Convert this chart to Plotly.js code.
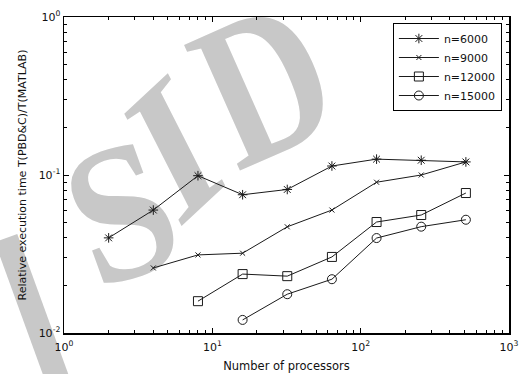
<!DOCTYPE html>
<html>
<head>
<meta charset="utf-8">
<script src="https://cdn.plot.ly/plotly-3.0.1.min.js"></script>
<style>
html,body{margin:0;padding:0;background:#fff;}
#wrap{position:relative;width:524px;height:374px;overflow:hidden;background:#fff;}
.wl{position:absolute;font-family:'Liberation Serif',serif;font-weight:bold;line-height:0.55;color:#c8c8c8;white-space:nowrap;}
#wS{left:121px;top:212px;font-size:195px;transform:translate(-50%,-50%) rotate(-20deg) scaleX(0.92);}
#wI{left:174px;top:148px;font-size:185px;transform:translate(-50%,-50%) rotate(-43deg) skewX(-16deg);}
#wD{left:264px;top:83px;font-size:210px;transform:translate(-50%,-50%) rotate(-24deg) scaleX(0.8);}
#wm2{position:absolute;left:-6px;top:238px;width:24px;height:170px;background:#c8c8c8;transform:rotate(-20deg);transform-origin:50% 0;}
#chart{position:absolute;left:0;top:0;width:524px;height:374px;}
</style>
</head>
<body>
<div id="wrap">
<div class="wl" id="wS">S</div>
<div class="wl" id="wI">I</div>
<div class="wl" id="wD">D</div>
<div id="wm2"></div>
<div id="chart"></div>
</div>
<script>
const procs6000 = [2, 4, 8, 16, 32, 64, 128, 256, 512];
const time6000 = [0.040, 0.060, 0.099, 0.075, 0.081, 0.114, 0.126, 0.124, 0.121];
const procs9000 = [4, 8, 16, 32, 64, 128, 256, 512];
const time9000 = [0.0258, 0.0312, 0.0320, 0.0470, 0.0600, 0.0900, 0.1000, 0.1210];
const procs12000 = [8, 16, 32, 64, 128, 256, 512];
const time12000 = [0.0159, 0.0236, 0.0229, 0.0303, 0.0504, 0.0558, 0.0769];
const procs15000 = [16, 32, 64, 128, 256, 512];
const time15000 = [0.0121, 0.0176, 0.0219, 0.0399, 0.0471, 0.0521];

const seriesNames = ['n=6000', 'n=9000', 'n=12000', 'n=15000'];
const xTickVals = [1, 10, 100, 1000];
const xTickText = ['10<sup>0</sup>', '10<sup>1</sup>', '10<sup>2</sup>', '10<sup>3</sup>'];
const yTickVals = [0.01, 0.1, 1];
const yTickText = ['10<sup>-2</sup>', '10<sup>-1</sup>', '10<sup>0</sup>'];
const xMinor = [2,3,4,5,6,7,8,9,20,30,40,50,60,70,80,90,200,300,400,500,600,700,800,900];
const yMinor = [0.02,0.03,0.04,0.05,0.06,0.07,0.08,0.09,0.2,0.3,0.4,0.5,0.6,0.7,0.8,0.9];

const FONT = 'DejaVu Sans, Liberation Sans, Arial, sans-serif';
const lineStyle = {color: '#1a1a1a', width: 1};
function mk(x, y, name, symbol, size) {
  return {
    x: x, y: y, name: name, type: 'scatter', mode: 'lines+markers',
    line: lineStyle,
    marker: {symbol: symbol, size: size, color: '#1a1a1a', line: {color: '#1a1a1a', width: 1}}
  };
}
const traces = [
  mk(procs6000, time6000, seriesNames[0], 'asterisk-open', 8),
  mk(procs9000, time9000, seriesNames[1], 'x-thin-open', 5),
  mk(procs12000, time12000, seriesNames[2], 'square-open', 9),
  mk(procs15000, time15000, seriesNames[3], 'circle-open', 9)
];

const layout = {
  width: 524, height: 374,
  margin: {l: 64, r: 15, t: 17, b: 41},
  paper_bgcolor: 'rgba(0,0,0,0)',
  plot_bgcolor: 'rgba(0,0,0,0)',
  font: {family: FONT, size: 11, color: '#111'},
  showlegend: true,
  legend: {
    x: 0.984, xanchor: 'right', y: 0.981, yanchor: 'top',
    bgcolor: '#fff', bordercolor: '#000', borderwidth: 1,
    font: {family: FONT, size: 11, color: '#111'},
    itemwidth: 40, tracegroupgap: 0
  },
  xaxis: {
    type: 'log', range: [0, 3],
    tickmode: 'array', tickvals: xTickVals, ticktext: xTickText,
    ticks: 'inside', ticklen: 5, tickwidth: 1, tickcolor: '#000',
    showline: true, linecolor: '#000', linewidth: 1.5, mirror: 'ticks',
    showgrid: false, zeroline: false,
    minor: {tickmode: 'array', tickvals: xMinor, ticks: 'inside', ticklen: 3, tickcolor: '#000', showgrid: false},
    tickfont: {family: FONT, size: 11, color: '#111'},
    ticklabelstandoff: 3,
    title: {text: 'Number of processors', font: {family: FONT, size: 11.5, color: '#111'}, standoff: 9}
  },
  yaxis: {
    type: 'log', range: [-2, 0],
    tickmode: 'array', tickvals: yTickVals, ticktext: yTickText,
    ticks: 'inside', ticklen: 5, tickwidth: 1, tickcolor: '#000',
    showline: true, linecolor: '#000', linewidth: 1.5, mirror: 'ticks',
    showgrid: false, zeroline: false,
    minor: {tickmode: 'array', tickvals: yMinor, ticks: 'inside', ticklen: 3, tickcolor: '#000', showgrid: false},
    tickfont: {family: FONT, size: 11, color: '#111'},
    title: {text: 'Relative execution time T(PBD&amp;C)/T(MATLAB)', font: {family: FONT, size: 11, color: '#111'}, standoff: 10}
  }
};
Plotly.newPlot('chart', traces, layout, {displayModeBar: false, staticPlot: true});
</script>
</body>
</html>
